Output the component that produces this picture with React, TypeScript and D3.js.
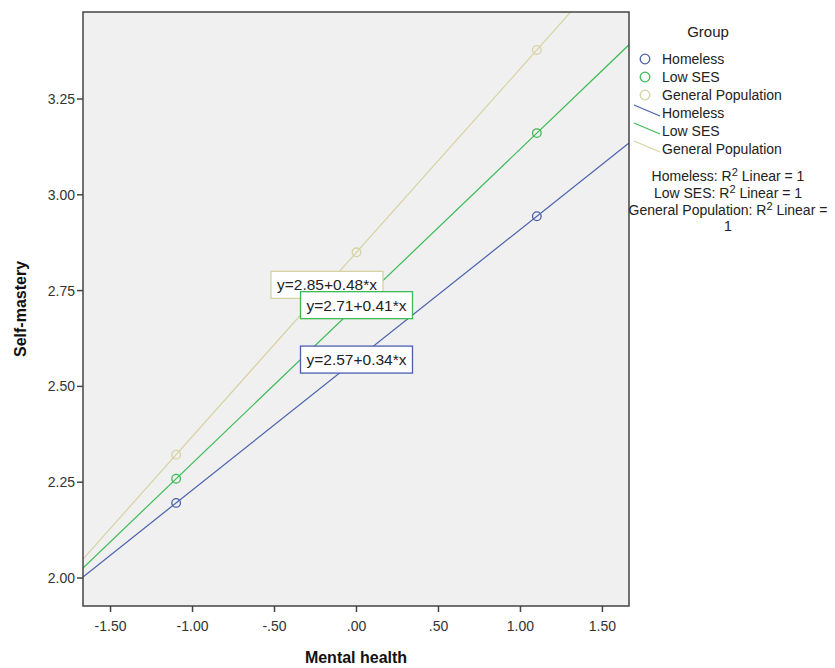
import React from "react";
import * as d3 from "d3";

// groups and fitted values
const groups = ["Homeless", "Low SES", "General Population"];
const intercepts = [2.57, 2.71, 2.85];
const slopes = [0.34, 0.41, 0.48];
const pointX = [
  [-1.1, 1.1],
  [-1.1, 1.1],
  [-1.1, 0, 1.1],
];
const colors = ["#4a60ae", "#3cbb55", "#d6d2a2"];
const labelAt = [
  [0, 2.57],
  [0, 2.712],
  [-0.18, 2.765],
];
const xTicks = [-1.5, -1.0, -0.5, 0, 0.5, 1.0, 1.5];
const yTicks = [2.0, 2.25, 2.5, 2.75, 3.0, 3.25];

const W = 835;
const H = 668;
const left = 83, right = 629, top = 12, bottom = 606;
const font = "Arial, 'Liberation Sans', sans-serif";

// SPSS style: 2 decimals, no leading zero, plain hyphen
const fmt = (v: number) => v.toFixed(2).replace(/^(-?)0\./, "$1.");

export default function App() {
  const x = d3.scaleLinear().domain([-1.668, 1.662]).range([left, right]);
  const y = d3.scaleLinear().domain([1.927, 3.477]).range([bottom, top]);
  const [x0, x1] = x.domain();

  const line = d3
    .line<number[]>()
    .x((d) => x(d[0]))
    .y((d) => y(d[1]));

  // draw order: general population first so the other labels sit on top
  const order = [2, 1, 0];

  return (
    <svg
      width={W}
      height={H}
      style={{ position: "absolute", left: 0, top: 0, background: "#fff" }}
      fontFamily={font}
    >
      <defs>
        <clipPath id="plotClip">
          <rect x={left} y={top} width={right - left} height={bottom - top} />
        </clipPath>
      </defs>
      <rect x={left} y={top} width={right - left} height={bottom - top} fill="#f0f0f0" />

      <g clipPath="url(#plotClip)">
        {groups.map((g, i) => {
          const pts = [
            [x0, intercepts[i] + slopes[i] * x0],
            [x1, intercepts[i] + slopes[i] * x1],
          ];
          return (
            <path key={g} d={line(pts) || ""} stroke={colors[i]} strokeWidth={1.2} fill="none" />
          );
        })}
        {groups.map((g, i) =>
          pointX[i].map((px) => (
            <circle
              key={g + px}
              cx={x(px)}
              cy={y(intercepts[i] + slopes[i] * px)}
              r={4.3}
              fill="none"
              stroke={colors[i]}
              strokeWidth={1.3}
            />
          ))
        )}
        {order.map((i) => {
          const cx = x(labelAt[i][0]);
          const cy = y(labelAt[i][1]);
          const bw = 112;
          const bh = 27;
          const txt = `y=${intercepts[i].toFixed(2)}+${slopes[i].toFixed(2)}*x`;
          return (
            <g key={"lab" + i}>
              <rect
                x={cx - bw / 2}
                y={cy - bh / 2}
                width={bw}
                height={bh}
                fill="#fff"
                stroke={colors[i]}
                strokeWidth={1.3}
              />
              <text x={cx} y={cy + 5.5} textAnchor="middle" fontSize={15.5} fill="#222">
                {txt}
              </text>
            </g>
          );
        })}
      </g>

      <rect
        x={left}
        y={top}
        width={right - left}
        height={bottom - top}
        fill="none"
        stroke="#444"
        strokeWidth={1.5}
      />

      {/* y axis */}
      {yTicks.map((t) => (
        <g key={"y" + t} transform={`translate(${left},${y(t)})`}>
          <line x1={-6} x2={0} stroke="#444" strokeWidth={1.5} />
          <text x={-8} y={5} textAnchor="end" fontSize={14} fill="#333">
            {fmt(t)}
          </text>
        </g>
      ))}
      {/* x axis */}
      {xTicks.map((t) => (
        <g key={"x" + t} transform={`translate(${x(t)},${bottom})`}>
          <line y1={0} y2={6} stroke="#444" strokeWidth={1.5} />
          <text y={25} textAnchor="middle" fontSize={14} fill="#333">
            {fmt(t)}
          </text>
        </g>
      ))}

      <text
        x={(left + right) / 2}
        y={663}
        textAnchor="middle"
        fontSize={16}
        fontWeight="bold"
        fill="#111"
      >
        Mental health
      </text>
      <text
        transform={`translate(26,${(top + bottom) / 2}) rotate(-90)`}
        textAnchor="middle"
        fontSize={16}
        fontWeight="bold"
        fill="#111"
      >
        Self-mastery
      </text>

      {/* legend */}
      <text x={708} y={37} textAnchor="middle" fontSize={15} fill="#222">
        Group
      </text>
      {groups.map((g, i) => (
        <g key={"lc" + g} transform={`translate(0,${59 + i * 18})`}>
          <circle cx={645} cy={0} r={4.8} fill="none" stroke={colors[i]} strokeWidth={1.3} />
          <text x={662} y={5} fontSize={14} fill="#222">
            {g}
          </text>
        </g>
      ))}
      {groups.map((g, i) => (
        <g key={"ll" + g} transform={`translate(0,${113 + i * 18})`}>
          <line x1={634} y1={-8} x2={660} y2={3} stroke={colors[i]} strokeWidth={1.2} />
          <text x={662} y={5} fontSize={14} fill="#222">
            {g}
          </text>
        </g>
      ))}
      <g fontSize={14} fill="#222" textAnchor="middle">
        <text x={728} y={181}>
          Homeless: R<tspan dy={-5} fontSize={11}>2</tspan>
          <tspan dy={5}> Linear = 1</tspan>
        </text>
        <text x={728} y={198}>
          Low SES: R<tspan dy={-5} fontSize={11}>2</tspan>
          <tspan dy={5}> Linear = 1</tspan>
        </text>
        <text x={728} y={215}>
          General Population: R<tspan dy={-5} fontSize={11}>2</tspan>
          <tspan dy={5}> Linear =</tspan>
        </text>
        <text x={728} y={231}>1</text>
      </g>
    </svg>
  );
}
